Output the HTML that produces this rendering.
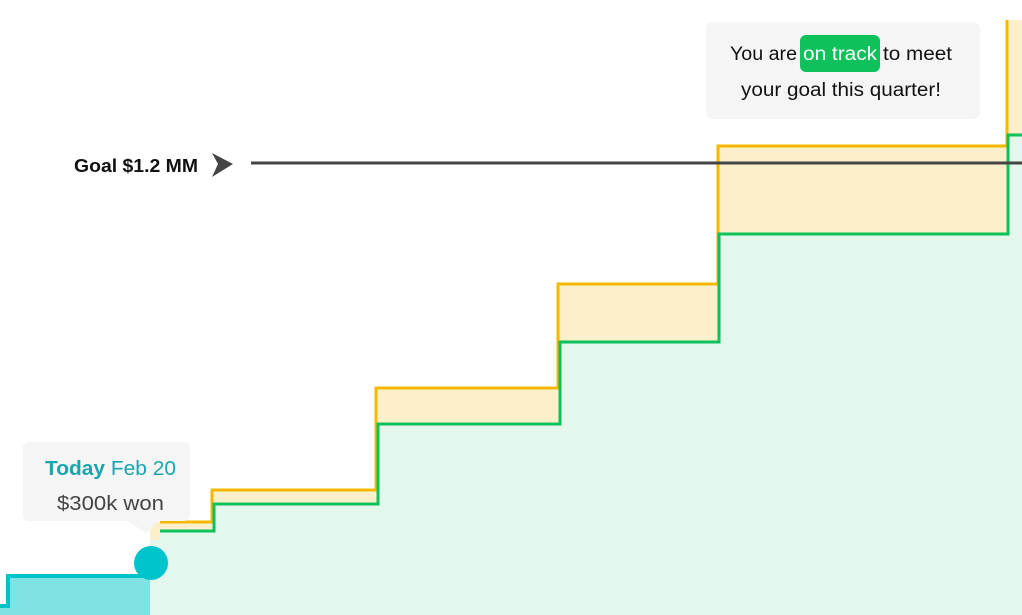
<!DOCTYPE html>
<html><head><style>
html,body{margin:0;padding:0;background:#fff;width:1022px;height:615px;overflow:hidden}
svg{display:block}
text{font-family:"Liberation Sans",sans-serif}
</style></head><body>
<svg width="1022" height="615" viewBox="0 0 1022 615" xmlns="http://www.w3.org/2000/svg">
<path d="M150,615 L150,522 L160,522 L160,531 L214,531 L214,504 L378,504 L378,424 L560,424 L560,342 L719,342 L719,234 L1008,234 L1008,135 L1022,135 L1022,615 Z" fill="#e3f7ec"/>
<path d="M150,522 L212,522 L212,490 L376,490 L376,388 L558,388 L558,284 L718,284 L718,146 L1007,146 L1007,20 L1022,20 L1022,135 L1008,135 L1008,234 L719,234 L719,342 L560,342 L560,424 L378,424 L378,504 L214,504 L214,531 L160,531 L160,540 L150,540 Z" fill="#fcefcb"/>
<polyline points="160,522 212,522 212,490 376,490 376,388 558,388 558,284 718,284 718,146 1007,146 1007,20" fill="none" stroke="#f5b800" stroke-width="3"/>
<polyline points="160,531 214,531 214,504 378,504 378,424 560,424 560,342 719,342 719,234 1008,234 1008,135 1022,135" fill="none" stroke="#0ec15a" stroke-width="3"/>
<path d="M8,578 L150,578 L150,615 L0,615 L0,608 L8,608 Z" fill="#80e3e3"/>
<polyline points="0,606 8,606 8,576 150,576" fill="none" stroke="#00c4cc" stroke-width="4"/>
<circle cx="151" cy="563" r="17" fill="#00c4cc"/>
<line x1="251" y1="163" x2="1022" y2="163" stroke="#444" stroke-width="3"/>
<path d="M212,153 L233,164 L212,177 L218,164 Z" fill="#444"/>
<text x="74" y="172" font-size="18" font-weight="bold" fill="#111" textLength="124" lengthAdjust="spacingAndGlyphs">Goal $1.2 MM</text>
<rect x="23" y="442" width="167" height="79" rx="6" fill="#f6f5f6"/>
<path d="M128,521 L146,533 L158,521 Z" fill="#f6f5f6"/>
<text x="45" y="475" font-size="20" fill="#1aa5ae" textLength="131" lengthAdjust="spacingAndGlyphs"><tspan font-weight="bold">Today</tspan> Feb 20</text>
<text x="57" y="510" font-size="20" fill="#444" textLength="107" lengthAdjust="spacingAndGlyphs">$300k won</text>
<rect x="706" y="22" width="274" height="97" rx="7" fill="#f6f5f6"/>
<rect x="800" y="35" width="80" height="37" rx="6" fill="#0ec15a"/>
<text x="730" y="60" font-size="19" fill="#111" textLength="67" lengthAdjust="spacingAndGlyphs">You are</text>
<text x="840" y="60" font-size="19" fill="#fff" text-anchor="middle" textLength="74" lengthAdjust="spacingAndGlyphs">on track</text>
<text x="883" y="60" font-size="19" fill="#111" textLength="69" lengthAdjust="spacingAndGlyphs">to meet</text>
<text x="741" y="96" font-size="19" fill="#111" textLength="200" lengthAdjust="spacingAndGlyphs">your goal this quarter!</text>
</svg>
</body></html>
